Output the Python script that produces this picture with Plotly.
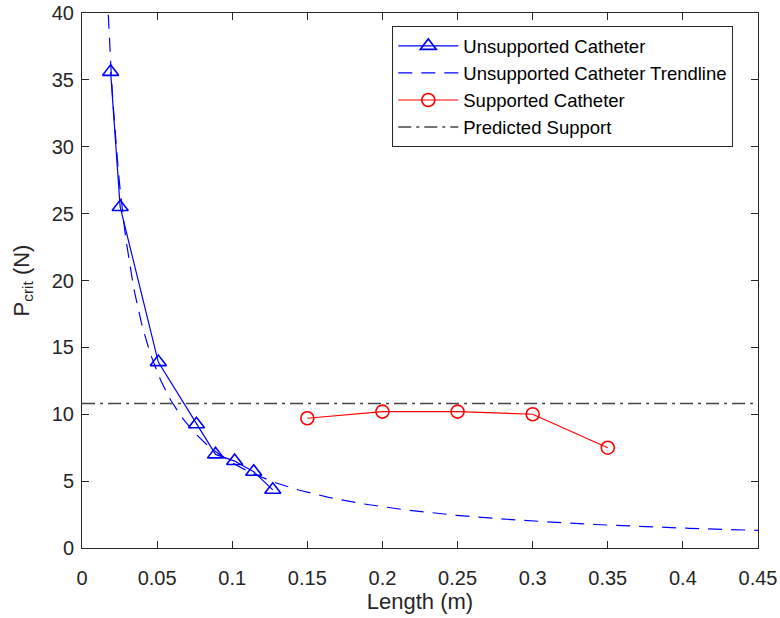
import numpy as np
import plotly.graph_objects as go

# Critical buckling load measurements
unsup_len = [0.01905, 0.0254, 0.0508, 0.0762, 0.0889, 0.1016, 0.1143, 0.127]
unsup_p = [35.6, 25.5, 13.9, 9.25, 7.0, 6.5, 5.7, 4.35]

sup_len = [0.15, 0.20, 0.25, 0.30, 0.35]
sup_p = [9.7, 10.2, 10.2, 10.0, 7.5]

predicted_support = 10.8

x_ticks = [0, 0.05, 0.1, 0.15, 0.2, 0.25, 0.3, 0.35, 0.4, 0.45]
x_tick_text = ["0", "0.05", "0.1", "0.15", "0.2", "0.25", "0.3", "0.35", "0.4", "0.45"]
y_ticks = [0, 5, 10, 15, 20, 25, 30, 35, 40]

# Power-law trendline P = a * L^b fitted to the unsupported data
b, log_a = np.polyfit(np.log(unsup_len), np.log(unsup_p), 1)
trend_len = np.linspace(0.012, 0.45, 400)
trend_p = np.exp(log_a) * trend_len ** b

AX = "rgb(38,38,38)"
FONT = "Liberation Sans, Arial, Helvetica, sans-serif"

fig = go.Figure()

fig.add_trace(go.Scatter(
    x=unsup_len, y=unsup_p, mode="lines+markers",
    name="Unsupported Catheter", legendgroup="g1",
    line=dict(color="rgb(0,0,255)", width=1.2),
    marker=dict(symbol="triangle-up-open", size=14, color="rgb(0,0,255)",
                line=dict(width=1.6, color="rgb(0,0,255)")),
))
fig.add_trace(go.Scatter(
    x=trend_len, y=trend_p, mode="lines",
    name="Unsupported Catheter Trendline", legendgroup="g2",
    line=dict(color="rgb(0,0,255)", width=1.2, dash="14px,9px"),
))
fig.add_trace(go.Scatter(
    x=sup_len, y=sup_p, mode="lines+markers",
    name="Supported Catheter", legendgroup="g3",
    line=dict(color="rgb(255,0,0)", width=1.2),
    marker=dict(symbol="circle-open", size=13, color="rgb(255,0,0)",
                line=dict(width=1.6, color="rgb(255,0,0)")),
))
fig.add_trace(go.Scatter(
    x=[x_ticks[0], x_ticks[-1]], y=[predicted_support, predicted_support],
    mode="lines", name="Predicted Support", legendgroup="g4",
    line=dict(color="rgb(70,70,70)", width=1.5, dash="13px,5px,3px,5px"),
))

axis_common = dict(
    showline=True, linecolor=AX, linewidth=1, mirror="ticks",
    ticks="inside", ticklen=7, tickcolor=AX, tickwidth=1,
    showgrid=False, zeroline=False, automargin=False,
    tickfont=dict(family=FONT, size=20, color=AX),
)

fig.update_layout(
    width=780, height=618,
    margin=dict(l=82, r=22, t=13, b=70),
    paper_bgcolor="white", plot_bgcolor="white",
    font=dict(family=FONT, color=AX),
    xaxis=dict(range=[0, 0.45], tickvals=x_ticks, ticktext=x_tick_text,
               ticklabelstandoff=12,
               title=dict(text="Length (m)", font=dict(size=22, color=AX), standoff=4),
               **axis_common),
    yaxis=dict(range=[0, 40], tickvals=y_ticks, ticklabelstandoff=3,
               title=dict(text="P<sub>crit</sub> (N)", font=dict(size=22, color=AX), standoff=16),
               **axis_common),
    legend=dict(
        x=0.459, y=0.975, xanchor="left", yanchor="top",
        bgcolor="white", bordercolor=AX, borderwidth=1,
        font=dict(family=FONT, size=18.5, color="black"),
        itemwidth=60, tracegroupgap=0,
    ),
    showlegend=True,
)

fig.write_html("out.html")
